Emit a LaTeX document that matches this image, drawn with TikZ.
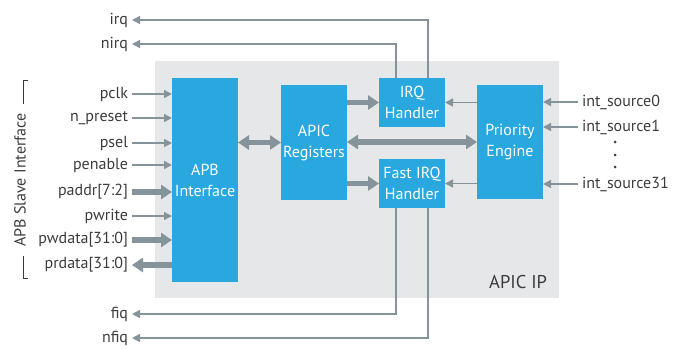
\documentclass[tikz,border=0pt]{standalone}
\usepackage{fontspec}
\setmainfont{PT Sans}
\usetikzlibrary{arrows.meta}
\definecolor{apicblue}{HTML}{29A8E0}
\definecolor{apicgray}{HTML}{E6E7E9}
\definecolor{wire}{HTML}{85939A}
\definecolor{txt}{HTML}{3C3C3C}
\tikzset{
  blk/.style={fill=apicblue, text=white, align=center, inner sep=0pt, outer sep=0pt,
    minimum width=66pt, font=\fontsize{16}{21}\selectfont},
  thin/.style={draw=wire, line width=1.5pt, -{Triangle[length=8pt,width=8pt]}},
  fat/.style={draw=wire, line width=5.5pt, -{Triangle[length=11pt,width=14pt]}},
  fatback/.style={fat, {Triangle[length=11pt,width=14pt]}-},
  fatboth/.style={fat, {Triangle[length=11pt,width=14pt]}-{Triangle[length=11pt,width=14pt]}},
  lbl/.style={text=txt, inner xsep=2pt, outer xsep=2pt, inner ysep=0pt, font=\fontsize{16}{18}\selectfont}
}
\begin{document}
\begin{tikzpicture}[x=1pt,y=-1pt]
\useasboundingbox (0,0) rectangle (682,349);
% APIC IP frame
\fill[apicgray] (155,61) rectangle (559,298);
\node[lbl, font=\fontsize{18.5}{20}\selectfont, anchor=south east] (ip) at (551,289) {APIC IP};
% blocks
\node[blk, minimum height=204pt] (apb) at (205,180) {APB\\Interface};
\node[blk, minimum height=115pt] (regs) at (314,142.5) {APIC\\Registers};
\node[blk, minimum height=49pt] (irqh) at (412,102.5) {IRQ\\Handler};
\node[blk, minimum height=49pt] (fiqh) at (412,183.5) {Fast IRQ\\Handler};
\node[blk, minimum height=114pt] (prio) at (510,142) {Priority\\Engine};
% inner connections
\draw[fatboth] (apb.east |- regs) -- (regs.west);
\draw[fatboth] (regs.east |- prio) -- (prio.west);
\draw[fat] (regs.east |- irqh) -- (irqh.west);
\draw[fat] (regs.east |- fiqh) -- (fiqh.west);
\draw[thin] (prio.west |- irqh) -- (irqh.east);
\draw[thin] (prio.west |- fiqh) -- (fiqh.east);
% APB slave interface
\def\sig#1#2#3#4{
\node[lbl, anchor=east] (#1) at (132,#2) {#3};
\draw[#4] (#1.east) -- (#1.east -| apb.west);
}
\sig{pclk}{94}{pclk}{thin}
\sig{npreset}{118}{n\_preset}{thin}
\sig{psel}{143}{psel}{thin}
\sig{penable}{165}{penable}{thin}
\sig{paddr}{192}{paddr[7:2]}{fat}
\sig{pwrite}{216}{pwrite}{thin}
\sig{pwdata}{240}{pwdata[31:0]}{fat}
\sig{prdata}{265}{prdata[31:0]}{fatback}
\node[lbl, rotate=90] (slave) at (20,180) {APB Slave Interface};
\draw[txt, line width=1pt] (28,80) -- (23,80) -- (23,104);
\draw[txt, line width=1pt] (23,256) -- (23,278) -- (28,278);
% interrupt outputs
\node[lbl, anchor=east] (irq) at (132,20) {irq};
\node[lbl, anchor=east] (nirq) at (132,44) {nirq};
\node[lbl, anchor=east] (fiq) at (132,314) {fiq};
\node[lbl, anchor=east] (nfiq) at (132,338) {nfiq};
\draw[thin] ([xshift=16pt]irqh.north) |- (irq.east);
\draw[thin] ([xshift=-16pt]irqh.north) |- (nirq.east);
\draw[thin] ([xshift=-16pt]fiqh.south) |- (fiq.east);
\draw[thin] ([xshift=16pt]fiqh.south) |- (nfiq.east);
% interrupt sources
\def\src#1#2#3{
\node[lbl, anchor=west] (#1) at (578,#2) {#3};
\draw[thin] (#1.west) -- (#1.west -| prio.east);
}
\src{src0}{102}{int\_source0}
\src{src1}{127}{int\_source1}
\src{src31}{184}{int\_source31}
\foreach \y in {142,155,167}
  \fill[txt] (615,\y) circle (1.5pt);
\end{tikzpicture}
\end{document}
